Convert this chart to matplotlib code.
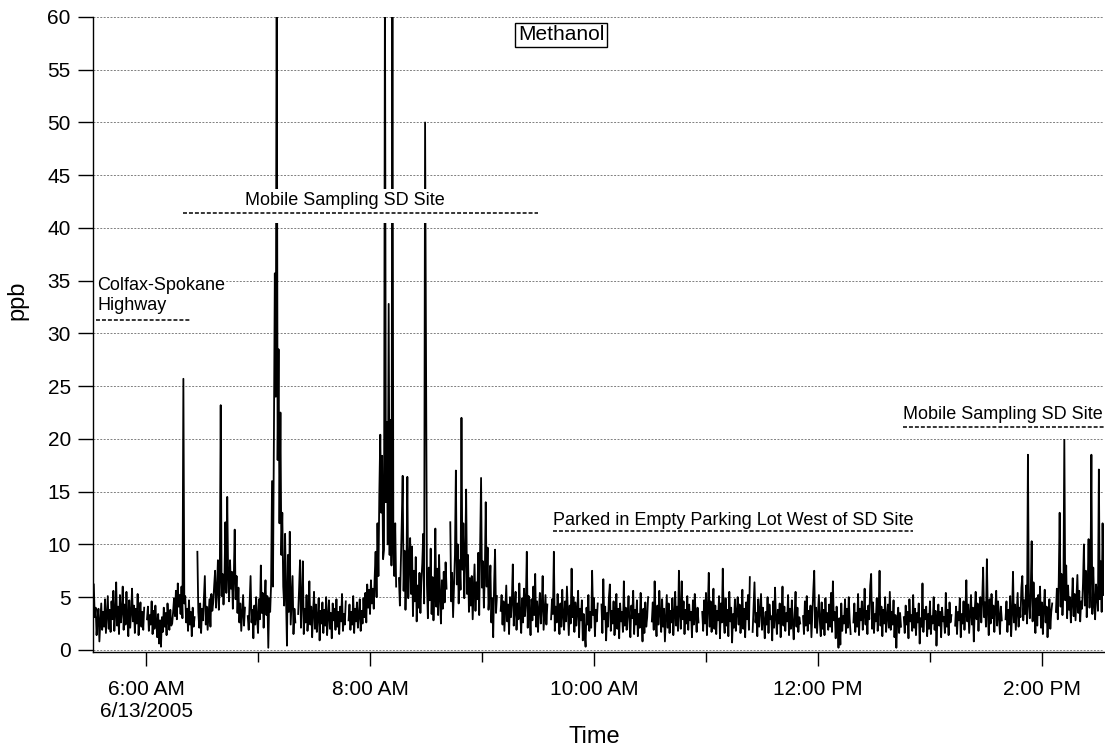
import numpy as np
import pandas as pd
import matplotlib
matplotlib.use("Agg")
import matplotlib.pyplot as plt
import matplotlib.dates as mdates
from matplotlib.patches import Rectangle

plt.rcParams['font.family'] = ['Liberation Sans', 'DejaVu Sans']

# Methanol mixing ratio (ppb), 30 s samples, one list per run between calibration gaps
day = "2005-06-13 "
seg_starts = ["05:32:00", "06:00:30", "06:27:30", "06:54:30", "07:21:30",
              "07:48:30", "08:15:30", "08:43:00", "09:10:00", "09:37:00",
              "10:04:00", "10:31:00", "10:58:00", "11:25:00", "11:52:00",
              "12:19:00", "12:46:00", "13:13:30", "13:40:30", "14:07:30"]

seg_values = [
    [6.2, 3.1, 4.0, 1.4, 2.8, 3.9, 0.8, 2.5, 4.4, 1.9, 3.6, 2.2, 4.8,
     1.6, 3.3, 5.1, 2.0, 3.8, 1.7, 4.6, 2.9, 5.6, 1.8, 3.4, 6.4, 2.3,
     4.1, 1.5, 5.2, 2.6, 3.7, 6.0, 1.9, 4.3, 2.4, 5.5, 3.0, 1.3, 4.7,
     2.1, 3.5, 5.8, 2.7, 4.2, 1.6, 3.9, 2.5, 5.3, 1.4, 3.2, 4.5, 2.2, 3.6, 1.9, 4.0],
    [2.9, 4.1, 1.8, 3.3, 2.4, 4.6, 1.5, 3.7, 2.0, 4.2, 2.6, 1.2, 3.4,
     0.6, 2.8, 0.3, 3.1, 1.7, 4.0, 2.2, 3.5, 1.4, 4.4, 2.7, 1.9, 3.8, 2.3,
     2.5, 3.6, 4.9, 3.2, 5.6, 2.9, 6.3, 4.1, 5.2, 3.4, 6.0, 3.0, 25.7, 4.4, 5.1,
     2.6, 3.9, 1.8, 4.7, 2.4, 3.6, 1.3, 4.0, 2.2, 3.1],
    [9.3, 3.6, 2.1, 4.4, 1.6, 3.9, 2.8, 5.0, 7.0, 2.4, 4.1, 1.9, 3.3,
     4.8, 2.2, 5.3, 3.7, 4.5, 6.1, 7.5, 4.0, 5.6, 8.5, 3.8, 6.4, 23.2,
     5.1, 7.2, 4.3, 6.6, 12.1, 5.4, 14.5, 6.9, 4.6, 8.5, 5.8, 7.4, 3.9,
     6.7, 11.4, 4.8, 7.0, 3.5, 5.9, 2.6, 4.4, 1.8, 3.6, 5.2, 2.3, 4.0],
    [3.2, 1.9, 4.5, 7.0, 2.6, 3.8, 1.1, 4.2, 2.4, 5.0, 3.0, 1.6, 4.8,
     2.9, 8.0, 3.5, 5.4, 2.1, 4.6, 6.6, 3.3, 5.1, 0.2, 4.9, 3.6, 6.2,
     16.0, 6.0, 20.0, 35.7, 24.0, 66.0, 18.0, 28.5, 12.0, 22.5, 9.0, 13.0, 6.0,
     4.2, 11.0, 5.0, 0.4, 9.0, 3.6, 11.2, 2.4, 4.8, 7.0, 1.5, 3.9, 2.6],
    [3.4, 5.8, 8.5, 2.1, 4.6, 8.4, 1.5, 3.9, 2.6, 5.2, 1.8, 3.3, 6.5,
     2.4, 4.1, 1.2, 3.6, 5.5, 2.0, 4.3, 1.7, 3.1, 4.9, 0.9, 3.7, 2.5,
     4.5, 1.6, 3.8, 2.3, 5.0, 1.4, 3.2, 4.7, 2.0, 3.5, 1.1, 4.4, 2.8,
     3.9, 1.9, 4.8, 2.2, 3.6, 1.5, 4.1, 2.7, 5.3, 1.8, 3.4, 2.4, 4.6],
    [2.8, 4.3, 1.9, 3.6, 2.4, 5.1, 1.6, 3.9, 2.7, 4.5, 2.1, 3.3, 4.8,
     1.8, 3.7, 2.5, 4.9, 3.1, 5.4, 2.6, 6.2, 4.0, 5.7, 3.4, 6.6, 4.4,
     5.8, 3.9, 6.9, 9.3, 5.0, 12.0, 7.0, 15.0, 20.4, 13.0, 18.4, 8.6, 9.5,
     65.0, 14.0, 21.6, 10.0, 32.8, 9.0, 21.8, 8.0, 65.0, 10.0, 7.0, 12.0, 6.0],
    [6.8, 4.2, 8.1, 12.0, 16.5, 5.6, 9.4, 3.8, 7.2, 16.4, 4.9, 8.0, 10.6,
     5.3, 9.8, 3.2, 7.5, 4.6, 8.8, 2.7, 6.1, 4.0, 7.3, 3.5, 6.4, 8.2,
     11.0, 4.4, 50.0, 28.7, 6.2, 3.0, 7.8, 4.7, 9.6, 3.4, 6.9, 2.8, 5.5,
     11.5, 4.1, 7.7, 3.3, 9.0, 5.0, 2.5, 6.6, 3.9, 7.4, 4.5, 8.3, 5.8],
    [12.1, 4.6, 7.3, 3.1, 5.9, 9.0, 17.0, 6.2, 10.0, 4.4, 8.5, 5.7, 22.0,
     7.6, 12.0, 4.9, 8.8, 15.2, 5.3, 9.0, 3.6, 6.8, 4.2, 7.0, 2.9, 5.6,
     8.1, 3.7, 6.4, 4.8, 9.2, 3.3, 10.0, 16.3, 5.9, 8.4, 4.0, 7.1, 14.0,
     6.0, 9.7, 3.8, 5.4, 8.0, 2.6, 4.9, 1.2, 6.3, 9.5, 3.5, 5.1],
    [3.7, 5.2, 2.4, 4.6, 1.8, 3.9, 6.1, 2.7, 4.3, 1.5, 5.0, 3.1, 4.7,
     8.1, 2.3, 3.8, 5.5, 1.9, 4.4, 2.9, 6.3, 3.4, 1.6, 4.9, 2.6, 5.8,
     3.2, 4.5, 9.3, 2.1, 5.1, 3.6, 1.4, 4.8, 2.8, 6.0, 3.3, 7.2, 2.2,
     4.6, 1.7, 3.9, 5.4, 2.5, 4.1, 7.0, 1.9, 3.5, 5.2, 2.4, 4.3],
    [2.9, 4.8, 3.4, 9.3, 1.8, 4.1, 2.6, 5.3, 3.0, 1.5, 4.4, 2.2, 5.7,
     3.3, 1.9, 4.6, 2.7, 6.0, 3.8, 1.4, 4.2, 2.5, 7.7, 3.1, 5.0, 1.7,
     4.5, 2.3, 3.7, 5.6, 1.2, 3.9, 2.8, 4.7, 0.9, 3.4, 1.6, 0.3, 4.0,
     2.4, 5.2, 1.8, 3.6, 2.1, 7.5, 3.3, 4.9, 1.3, 3.8, 2.7, 4.4],
    [4.3, 1.6, 6.7, 2.9, 4.1, 0.9, 3.5, 2.2, 5.0, 6.2, 1.8, 3.7, 2.5,
     4.6, 1.4, 3.2, 5.3, 2.0, 3.9, 1.1, 4.4, 2.7, 3.6, 1.7, 6.5, 2.3,
     4.0, 1.9, 3.3, 5.1, 2.6, 1.2, 4.2, 3.0, 5.6, 1.5, 3.8, 2.4, 4.7,
     1.3, 3.4, 2.1, 5.4, 2.8, 0.8, 3.9, 1.6, 4.5, 2.2, 3.1, 5.0],
    [2.7, 4.5, 1.9, 6.5, 3.1, 1.3, 4.2, 2.4, 5.6, 3.5, 1.7, 4.8, 2.2,
     3.9, 0.8, 3.0, 5.2, 2.1, 4.4, 1.6, 3.7, 2.6, 4.9, 1.4, 3.3, 5.5,
     2.3, 4.1, 1.8, 7.5, 3.4, 2.0, 6.5, 2.9, 4.6, 1.5, 3.8, 2.5, 5.1,
     1.9, 4.3, 2.8, 3.6, 1.2, 4.7, 2.4, 5.3, 3.2, 1.7, 4.0, 2.6],
    [3.6, 1.8, 4.7, 2.5, 5.4, 1.4, 3.9, 7.3, 2.2, 4.6, 1.7, 3.3, 5.8,
     2.0, 4.2, 1.5, 3.7, 2.8, 5.1, 1.1, 4.4, 2.6, 7.7, 3.0, 1.6, 4.9,
     2.3, 3.8, 1.3, 5.5, 2.7, 4.0, 0.7, 3.4, 2.1, 4.8, 1.8, 3.6, 5.0,
     2.4, 4.3, 1.6, 3.1, 5.7, 2.0, 3.9, 1.2, 4.5, 2.9, 5.2, 1.9, 6.9],
    [1.7, 4.1, 6.4, 2.6, 3.5, 1.3, 4.8, 2.2, 3.7, 5.3, 1.9, 4.0, 2.8,
     1.1, 3.6, 2.4, 5.0, 1.6, 4.3, 2.9, 3.2, 0.9, 4.6, 2.1, 5.9, 3.0,
     1.5, 3.8, 2.5, 4.4, 1.2, 3.3, 6.0, 2.3, 4.1, 1.8, 3.5, 2.7, 5.2,
     1.4, 3.9, 2.0, 4.7, 2.6, 1.0, 3.4, 5.5, 2.2, 4.0, 1.7, 3.1, 2.5],
    [3.2, 1.5, 4.6, 2.3, 5.1, 1.8, 3.7, 2.5, 4.2, 1.2, 3.4, 5.6, 7.5,
     2.1, 4.0, 1.6, 3.3, 5.2, 2.7, 1.3, 4.5, 2.0, 3.8, 1.4, 4.9, 2.6,
     3.5, 1.9, 4.3, 2.2, 5.4, 1.7, 6.5, 2.8, 3.6, 1.1, 4.1, 2.4, 0.2,
     3.0, 0.5, 4.4, 1.8, 3.2, 2.5, 4.8, 1.6, 3.9, 2.1, 5.0, 2.9, 1.5],
    [2.6, 4.4, 1.7, 3.5, 2.2, 5.3, 1.4, 3.9, 2.8, 4.6, 1.9, 3.2, 5.8,
     2.4, 3.7, 1.5, 4.2, 2.9, 6.1, 7.2, 2.0, 4.5, 1.6, 3.4, 2.7, 4.9,
     1.8, 3.6, 7.5, 2.3, 4.1, 1.3, 3.8, 2.5, 5.0, 1.7, 3.1, 4.3, 2.1,
     5.5, 1.9, 3.6, 2.4, 4.7, 1.2, 3.3, 0.2, 2.8, 4.0, 1.6, 3.5, 2.2],
    [3.1, 1.6, 4.2, 2.4, 3.6, 1.1, 4.8, 2.7, 3.3, 1.8, 5.2, 2.1, 3.9,
     1.4, 3.5, 2.6, 4.4, 0.6, 3.0, 2.2, 6.3, 1.7, 3.8, 2.9, 4.1, 1.3,
     3.4, 2.0, 4.6, 1.5, 3.2, 2.5, 5.0, 1.9, 3.7, 0.4, 2.8, 4.3, 2.3,
     3.6, 1.2, 4.0, 2.7, 3.1, 1.6, 5.4, 2.2, 3.8, 1.4, 4.5, 2.6, 3.3],
    [2.3, 4.1, 1.5, 3.6, 2.8, 4.9, 1.2, 3.4, 2.5, 4.6, 1.9, 3.8, 6.6,
     2.7, 4.3, 1.6, 3.5, 5.2, 2.4, 4.0, 0.8, 3.7, 5.5, 2.9, 4.4, 1.8,
     3.9, 5.0, 2.6, 4.7, 7.8, 3.1, 4.5, 2.2, 8.6, 3.6, 1.4, 4.8, 2.5,
     5.3, 3.0, 4.2, 1.7, 3.9, 5.6, 2.3, 4.6, 3.2, 1.5, 4.1, 2.8],
    [2.9, 4.6, 1.7, 3.8, 2.4, 5.1, 1.3, 3.5, 7.4, 2.6, 4.3, 1.9, 3.7,
     5.4, 2.2, 4.0, 3.1, 5.9, 7.0, 2.8, 4.7, 3.4, 6.1, 2.5, 18.5, 4.2,
     3.0, 5.5, 10.3, 2.7, 6.4, 3.6, 1.6, 4.9, 2.3, 5.2, 3.3, 6.0, 2.1,
     4.5, 1.5, 3.9, 5.7, 2.6, 4.1, 1.2, 3.4, 4.8, 2.0, 3.6, 4.4],
    [3.6, 5.8, 2.9, 6.4, 13.0, 4.1, 7.2, 3.3, 5.5, 20.0, 4.7, 8.0, 3.0,
     6.1, 3.8, 5.0, 2.6, 4.4, 6.8, 3.2, 5.3, 2.8, 4.9, 7.1, 3.5, 5.6,
     2.7, 4.6, 3.9, 6.3, 10.0, 4.2, 7.5, 3.1, 5.9, 10.5, 4.0, 6.6, 18.5,
     3.4, 7.8, 4.5, 2.9, 6.2, 5.1, 3.7, 17.1, 4.8, 8.4, 3.6, 12.0, 5.2],
]

# axis ticks
major_times = ["06:00", "08:00", "10:00", "12:00", "14:00"]
major_labels = ["6:00 AM\n6/13/2005", "8:00 AM", "10:00 AM", "12:00 PM", "2:00 PM"]
minor_times = ["07:00", "09:00", "11:00", "13:00"]
y_ticks = list(range(0, 61, 5))


def tn(s):
    return mdates.date2num(pd.Timestamp(day + s))


# join the runs, NaN between them leaves the gaps
times, vals = [], []
for start, v in zip(seg_starts, seg_values):
    t = pd.Timestamp(day + start) + pd.to_timedelta(np.arange(len(v)) * 30, unit="s")
    times.extend(t)
    vals.extend(v)
    times.append(t[-1] + pd.Timedelta(seconds=30))
    vals.append(np.nan)
times = pd.DatetimeIndex(times)
vals = np.array(vals, dtype=float)

fig = plt.figure(figsize=(11.05, 7.52), dpi=100)
ax = fig.add_axes([0.0842, 0.133, 0.9148, 0.8444])

ax.plot(times, vals, color="black", lw=1.3, zorder=2)

ax.set_xlim(pd.Timestamp(day + "05:31:36"), pd.Timestamp(day + "14:33:12"))
ax.set_ylim(-0.2, 60)
ax.set_yticks(y_ticks)
ax.set_xticks([tn(t + ":00") for t in major_times])
ax.set_xticklabels(major_labels)
ax.set_xticks([tn(t + ":00") for t in minor_times], minor=True)

ax.yaxis.grid(True, color="0.5", ls=(0, (2, 1.5)), lw=0.7)
ax.set_axisbelow(True)
for s in ["top", "right"]:
    ax.spines[s].set_visible(False)
for s in ["left", "bottom"]:
    ax.spines[s].set_linewidth(1.0)
    ax.spines[s].set_zorder(6)

ax.tick_params(axis="y", direction="out", length=11, width=1, labelsize=15, pad=5)
ax.tick_params(axis="x", which="major", direction="out", length=10, width=1,
               labelsize=15, pad=10)
ax.tick_params(axis="x", which="minor", direction="out", length=7.5, width=1)

# annotations: white patch, label, dashed underline
notes = [
    ("Mobile Sampling SD Site", "07:46:20", 42.6, "center",
     ("06:19:30", "09:30:30", 40.5, 43.7), ("06:19:50", "09:30:00", 41.4)),
    ("Colfax-Spokane\nHighway", "05:33:45", 33.6, "left",
     ("05:31:40", "06:42:20", 30.6, 36.0), ("05:33:10", "06:24:00", 31.3)),
    ("Parked in Empty Parking Lot West of SD Site", "11:14:40", 12.3, "center",
     ("09:36:00", "12:53:00", 10.8, 13.6), ("09:38:00", "12:51:00", 11.26)),
    ("Mobile Sampling SD Site", "13:38:50", 22.3, "center",
     ("12:44:00", "14:33:12", 20.0, 23.6), ("12:45:30", "14:33:12", 21.1)),
]
for text, tx, ty, ha, box, line in notes:
    x0, x1 = tn(box[0]), tn(box[1])
    ax.add_patch(Rectangle((x0, box[2]), x1 - x0, box[3] - box[2],
                           facecolor="white", edgecolor="none", zorder=3))
    ax.text(tn(tx), ty, text, ha=ha, va="center", fontsize=13, zorder=4,
            linespacing=1.2)
    ax.plot([tn(line[0]), tn(line[1])], [line[2], line[2]], color="black",
            lw=1.1, ls=(0, (2.6, 1.3)), zorder=4, clip_on=False)

ax.text(0.463, 0.972, "Methanol", transform=ax.transAxes, ha="center",
        va="center", fontsize=15, zorder=5,
        bbox=dict(boxstyle="square,pad=0.12", fc="white", ec="black", lw=1))

fig.text(594 / 1105, 1 - 737 / 752, "Time", ha="center", va="center", fontsize=17)
fig.text(17 / 1105, 1 - 300 / 752, "ppb", ha="center", va="center", fontsize=17,
         rotation=90)

fig.savefig("out.png", dpi=100)
